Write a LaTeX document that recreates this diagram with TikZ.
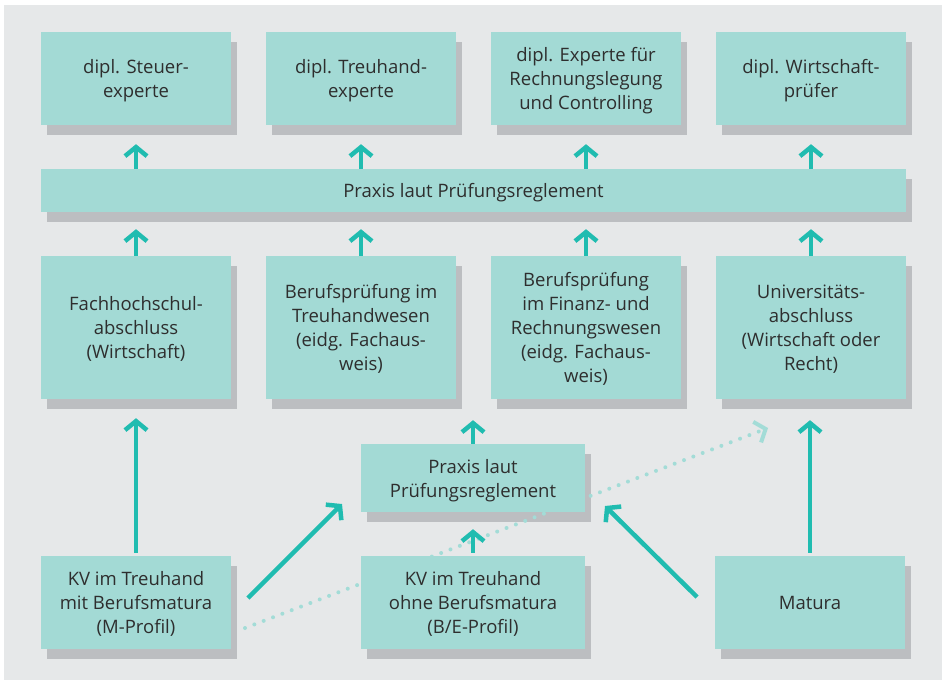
\documentclass[tikz,border=0pt]{standalone}
\usepackage{fontspec}
\setmainfont{Open Sans}
\usetikzlibrary{arrows.meta,calc,positioning}
\definecolor{bgc}{HTML}{E6E8E9}
\definecolor{boxc}{HTML}{A3DAD5}
\definecolor{shc}{HTML}{BCBEC1}
\definecolor{arrc}{HTML}{20BCB0}
\definecolor{dotc}{HTML}{A3DCD7}
\definecolor{txtc}{HTML}{2E2E2E}
\pgfdeclarelayer{back}
\pgfdeclarelayer{mid}
\pgfsetlayers{back,mid,main}
\tikzset{
  box/.style={fill=boxc, draw=none, inner sep=0pt, align=center, text=txtc, text depth=0pt,
    font=\fontsize{18.5}{24}\selectfont},
  wbox/.style={box, minimum width=190pt},
  arr/.style={draw=arrc, line width=4.5pt, -{Straight Barb[length=9pt,width=22pt]}},
  dotarr/.style={draw=dotc, line width=4pt, line cap=round, dash pattern=on 0pt off 10pt,
    -{Straight Barb[length=9pt,width=22pt]}},
}
\newcommand{\shadowof}[1]{\fill[shc] ($(#1.north west)+(6,10)$) rectangle ($(#1.south east)+(6,10)$);}
\begin{document}
\begin{tikzpicture}[x=1pt,y=-1pt]
\useasboundingbox (0,0) rectangle (944,680);
\begin{pgfonlayer}{back}
\fill[white] (0,0) rectangle (944,680);
\fill[bgc] (4,5) rectangle (942,680);
\end{pgfonlayer}
% top row
\node[wbox, minimum height=93pt] (t1) at (136,78.5) {dipl. Steuer-\\experte};
\node[wbox, minimum height=93pt] (t2) at (361,78.5) {dipl. Treuhand-\\experte};
\node[wbox, minimum height=93pt] (t3) at (586,78.5) {dipl. Experte für\\Rechnungslegung\\und Controlling};
\node[wbox, minimum height=93pt] (t4) at (811,78.5) {dipl. Wirtschaft-\\prüfer};
% band
\node[box, minimum width=865pt, minimum height=43pt] (band) at (473.5,190.5) {Praxis laut Prüfungsreglement};
% third row
\node[wbox, minimum height=143pt] (m1) at (136,327.5) {Fachhochschul-\\abschluss\\(Wirtschaft)};
\node[wbox, minimum height=143pt] (m2) at (361,327.5) {Berufsprüfung im\\Treuhandwesen\\(eidg. Fachaus-\\weis)};
\node[wbox, minimum height=143pt] (m3) at (586,327.5) {Berufsprüfung\\im Finanz- und\\Rechnungswesen\\(eidg. Fachaus-\\weis)};
\node[wbox, minimum height=143pt] (m4) at (811,327.5) {Universitäts-\\abschluss\\(Wirtschaft oder\\Recht)};
% middle praxis
\node[box, minimum width=224pt, minimum height=68pt] (px) at (473,478) {Praxis laut\\Prüfungsreglement};
% bottom row
\node[wbox, minimum height=93pt] (b1) at (136,602.5) {KV im Treuhand\\mit Berufsmatura\\(M-Profil)};
\node[box, minimum width=224pt, minimum height=93pt] (b2) at (473,602.5) {KV im Treuhand\\ohne Berufsmatura\\(B/E-Profil)};
\node[wbox, minimum height=93pt] (b4) at (810,602.5) {Matura};
% shadows
\begin{pgfonlayer}{back}
\foreach \n in {t1,t2,t3,t4,band,m1,m2,m3,m4,px,b1,b2,b4} {\shadowof{\n}}
\end{pgfonlayer}
% dotted arrow
\coordinate (ds) at (245,628);
\coordinate (de) at (768,428);
\begin{pgfonlayer}{mid}
\draw[dotarr] (ds) -- (de);
\end{pgfonlayer}
% arrows band -> top row
\foreach \n in {t1,t2,t3,t4} {
  \draw[arr, shorten >=19pt] (band.north -| \n.south) -- (\n.south);
}
% arrows third row -> band
\foreach \n in {m1,m2,m3,m4} {
  \draw[arr, shorten >=17pt] (\n.north) -- (band.south -| \n.north);
}
% long vertical arrows
\draw[arr, shorten <=3pt, shorten >=19pt] (b1.north) -- (m1.south);
\draw[arr, shorten <=3pt, shorten >=21pt] (b4.north) -- (m4.south -| b4.north);
% middle arrows
\draw[arr, shorten <=3pt, shorten >=17pt] (b2.north) -- (px.south);
\draw[arr, shorten >=21pt] (px.north) -- (px.north |- m2.south);
% diagonals
\coordinate (l1) at (248,598);
\coordinate (l2) at (342,504);
\coordinate (r1) at (697,597);
\coordinate (r2) at (605,506);
\draw[arr] (l1) -- (l2);
\draw[arr] (r1) -- (r2);
\end{tikzpicture}
\end{document}
